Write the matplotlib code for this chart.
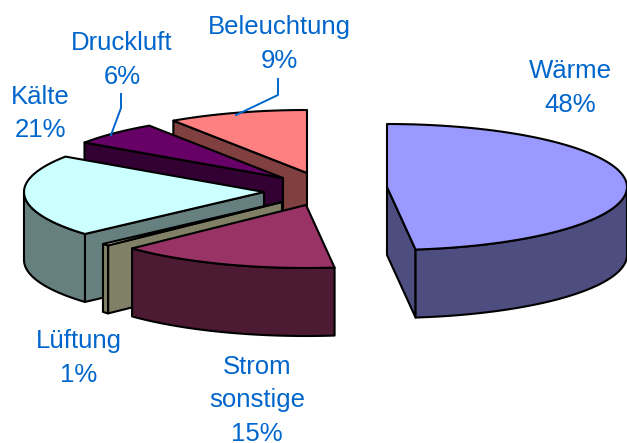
import numpy as np
import matplotlib
matplotlib.use("Agg")
import matplotlib.pyplot as plt

plt.rcParams['font.family'] = ['Liberation Sans', 'DejaVu Sans']

# Anteile im Uhrzeigersinn ab 12 Uhr (gerundet in den Beschriftungen)
names = ['Wärme', 'Strom\nsonstige', 'Lüftung', 'Kälte', 'Druckluft', 'Beleuchtung']
shares = [48.1, 14.8, 0.5, 21.1, 6.1, 9.4]
share_labels = ['48%', '15%', '1%', '21%', '6%', '9%']

top_colors = ['#9999ff', '#993366', '#ffffcc', '#ccffff', '#660066', '#ff8080']
side_colors = ['#4d4d80', '#4d1a33', '#808066', '#668080', '#330033', '#804040']

# Spitze jedes Segments in Pixeln (explodierte Darstellung)
apex_x = [387, 306, 282, 264, 283, 307]
apex_y = [187, 205, 202, 192, 178, 173]
label_x = [570, 257, 79, 40, 122, 279.5]
label_y = [88, 400.5, 358, 113.5, 60, 44]

RX = 240
RY = 63
DEPTH = 68
TEXT_COLOR = '#0066cc'

fig = plt.figure(figsize=(6.27, 4.43), dpi=100)
ax = fig.add_axes([0, 0, 1, 1])
ax.set_xlim(0, 627)
ax.set_ylim(443, 0)
ax.axis('off')

ends = np.cumsum(shares) * 3.6
starts = ends - np.array(shares) * 3.6


def rim(cx, cy, a1, a2, dy=0):
    t = np.radians(np.linspace(a1, a2, 80))
    return cx + RX * np.sin(t), cy - RY * np.cos(t) + dy


def draw_side(xs, ys, color):
    ax.fill(xs, ys, facecolor=color, edgecolor='black', linewidth=1.5, joinstyle='round')


# von hinten nach vorne zeichnen
for i in [5, 4, 3, 2, 1, 0]:
    cx, cy = apex_x[i], apex_y[i]
    a1, a2 = starts[i], ends[i]

    # Schnittflaeche, die zum Betrachter zeigt
    if a1 > 180:
        x, y = rim(cx, cy, a1, a1)
        x0, y0 = x[0], y[0]
        draw_side([x0, cx, cx, x0], [y0, cy, cy + DEPTH, y0 + DEPTH], side_colors[i])
    if a2 < 180:
        x, y = rim(cx, cy, a2, a2)
        x0, y0 = x[0], y[0]
        draw_side([x0, cx, cx, x0], [y0, cy, cy + DEPTH, y0 + DEPTH], side_colors[i])

    # Aussenwand, nur der vordere Teil
    v1, v2 = max(a1, 90), min(a2, 270)
    if v1 < v2:
        xa, ya = rim(cx, cy, v1, v2)
        xb, yb = rim(cx, cy, v2, v1, DEPTH)
        draw_side(np.r_[xa, xb], np.r_[ya, yb], side_colors[i])

    # Deckflaeche
    xt, yt = rim(cx, cy, a1, a2)
    draw_side(np.r_[cx, xt], np.r_[cy, yt], top_colors[i])

# Fuehrungslinien
ax.plot([278, 278, 236], [79, 95, 115], color=TEXT_COLOR, linewidth=1.4)
ax.plot([121, 121, 111], [94, 108, 135], color=TEXT_COLOR, linewidth=1.4)

for name, label, x, y in zip(names, share_labels, label_x, label_y):
    ax.text(x, y, name + '\n' + label, color=TEXT_COLOR, fontsize=18.5, ha='center',
            va='center', ma='center', linespacing=1.52)

fig.savefig('out.png', dpi=100)
